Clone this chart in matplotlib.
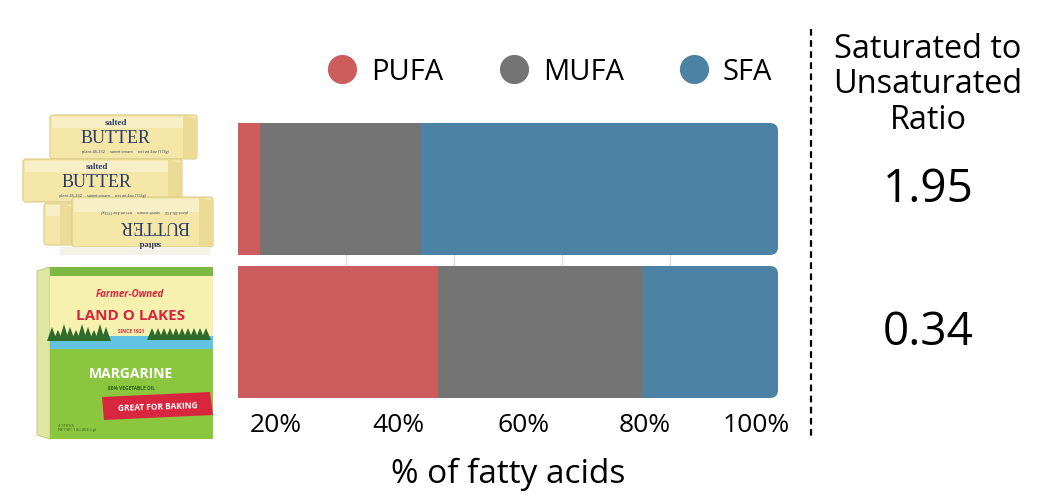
import matplotlib
matplotlib.use("Agg")
import matplotlib.pyplot as plt
import matplotlib.transforms as mtransforms
from matplotlib.patches import FancyBboxPatch, Rectangle, Polygon
from matplotlib.lines import Line2D

plt.rcParams['font.family'] = ['Open Sans', 'DejaVu Sans']

# data (% of fatty acids)
products = ['Butter', 'Margarine']
pufa = [4.0, 37.0]
mufa = [29.9, 38.0]
sfa = [66.1, 25.0]
ratios = [1.95, 0.34]
grid_ticks = [20, 40, 60, 80, 100]
tick_labels = ['20%', '40%', '60%', '80%', '100%']

series = [('PUFA', pufa, '#cd5c5c'),
          ('MUFA', mufa, '#747474'),
          ('SFA', sfa, '#4c83a4')]

W, H = 1059, 502
fig = plt.figure(figsize=(W / 100, H / 100), dpi=100)

# ---- main stacked bars ----
ax = fig.add_axes([238 / W, 1 - 399 / H, 540 / W, 275 / H])
bar_h = 0.923
ypos = list(range(len(products)))
totals = [p + m + s for p, m, s in zip(pufa, mufa, sfa)]

# rounded right end: clip every segment of a row to a rounded box
px_x = 540 / 100.0          # pixels per x unit
px_y = 275 / (len(products) - 1 + bar_h)
radius = 8 / px_x
aspect = (8 / px_y) / radius
clips = []
for y, tot in zip(ypos, totals):
    clips.append(FancyBboxPatch((-20, y - bar_h / 2), tot + 20, bar_h,
                                boxstyle=f"round,pad=0,rounding_size={radius}",
                                mutation_aspect=aspect, transform=ax.transData))

left = [0.0] * len(products)
for name, vals, col in series:
    bars = ax.barh(ypos, vals, left=left, height=bar_h, color=col,
                   linewidth=0, zorder=2)
    for b, c in zip(bars, clips):
        b.set_clip_path(c)
    left = [l + v for l, v in zip(left, vals)]

ax.set_xlim(0, 100)
ax.set_ylim(len(products) - 1 + bar_h / 2, -bar_h / 2)
ax.set_xticks(grid_ticks, minor=True)
ax.grid(which='minor', axis='x', color='#dcdcdc', linewidth=1, zorder=0)
# labels sit left of the gridlines in the original
ax.set_xticks([7.0, 29.8, 52.8, 75.4, 95.9])
ax.set_xticklabels(tick_labels, fontsize=19)
ax.tick_params(axis='x', which='both', length=0, pad=10)
ax.set_yticks([])
for s in ax.spines.values():
    s.set_visible(False)
ax.set_xlabel('% of fatty acids', fontsize=24, labelpad=14)

# legend
handles = [Line2D([], [], marker='o', ls='', markersize=21, color=c,
                  markeredgewidth=0) for _, _, c in series]
fig.legend(handles, [n for n, _, _ in series], loc='center',
           bbox_to_anchor=(550 / W, 1 - 73 / H), ncol=3, frameon=False,
           fontsize=21, handlelength=1.0, handletextpad=0.5,
           columnspacing=1.9)

# dashed separator and ratio column
fig.add_artist(Line2D([811 / W, 811 / W], [1 - 30 / H, 1 - 438 / H],
                      transform=fig.transFigure, color='black', lw=1.6,
                      dashes=(3, 2)))
fig.text(928 / W, 1 - 85 / H, 'Saturated to\nUnsaturated\nRatio',
         ha='center', va='center', fontsize=23.4, linespacing=1.1)
trans = mtransforms.blended_transform_factory(fig.transFigure, ax.transData)
for y, r in zip(ypos, ratios):
    ax.text(928 / W, y, f'{r:.2f}', transform=trans, ha='center',
            va='center', fontsize=33, clip_on=False)

# ---- product pictures (simple drawings) ----
pic = fig.add_axes([0, 0, 1, 1], zorder=-1)
pic.set_xlim(0, W)
pic.set_ylim(H, 0)
pic.axis('off')

navy = '#2a3a6a'


def stick(x0, y0, x1, y1):
    pic.add_patch(FancyBboxPatch((x0, y0), x1 - x0, y1 - y0,
                                 boxstyle='round,pad=0,rounding_size=3',
                                 fc='#f4e6a6', ec='#dccb88', lw=0.8))
    pic.add_patch(Rectangle((x0 + 2, y0 + 2), x1 - x0 - 4, (y1 - y0) * 0.25,
                            fc='#f8efc6', ec='none'))
    pic.add_patch(Polygon([(x1 - 14, y0), (x1, y0 + 4), (x1, y1 - 2),
                           (x1 - 14, y1)], fc='#ecdb96', ec='none'))


small = 'plant 45-232     sweet cream     net wt 4oz (113g)'

stick(50, 116, 197, 160)
pic.text(116, 123, 'salted', fontsize=6.5, color=navy, ha='center',
         va='center', family='Liberation Serif', fontweight='bold')
pic.text(116, 139, 'BUTTER', fontsize=13, color=navy, ha='center',
         va='center', family='Liberation Serif')
pic.text(125, 152, small, fontsize=2.8, color=navy, ha='center', va='center')

stick(23, 160, 182, 203)
pic.text(97, 167, 'salted', fontsize=6.5, color=navy, ha='center',
         va='center', family='Liberation Serif', fontweight='bold')
pic.text(97, 183, 'BUTTER', fontsize=13, color=navy, ha='center',
         va='center', family='Liberation Serif')
pic.text(102, 196, small, fontsize=2.8, color=navy, ha='center', va='center')

stick(44, 204, 74, 246)
stick(72, 198, 213, 248)
pic.text(150, 243, 'salted', fontsize=6.5, color=navy, ha='center',
         va='center', rotation=180, family='Liberation Serif',
         fontweight='bold')
pic.text(155, 226, 'BUTTER', fontsize=13, color=navy, ha='center',
         va='center', rotation=180, family='Liberation Serif')
pic.text(145, 211, small, fontsize=2.8, color=navy, ha='center',
         va='center', rotation=180)
pic.add_patch(Rectangle((60, 248), 150, 8, fc='#f4f1e8', ec='none'))

# margarine box
pic.add_patch(Polygon([(37, 272), (50, 268), (50, 440), (37, 436)],
                      fc='#dfe6a0', ec='#b9c27a', lw=0.6))
pic.add_patch(Rectangle((50, 268), 163, 172, fc='#f7f1b0', ec='none'))
pic.add_patch(Rectangle((50, 268), 163, 9, fc='#7db843', ec='none'))
pic.add_patch(Rectangle((50, 337), 163, 14, fc='#63c3e3', ec='none'))
for x in range(52, 112, 6):
    h = 10 + (x * 7) % 9
    pic.add_patch(Polygon([(x - 5, 342), (x + 5, 342), (x, 342 - h)],
                          fc='#2f6b2a', ec='none'))
for x in range(152, 212, 6):
    h = 12 + (x * 5) % 10
    pic.add_patch(Polygon([(x - 5, 341), (x + 5, 341), (x, 341 - h)],
                          fc='#2f6b2a', ec='none'))
pic.add_patch(Rectangle((50, 350), 163, 90, fc='#8cc63f', ec='none'))
pic.add_patch(Polygon([(102, 398), (210, 393), (213, 416), (104, 421)],
                      fc='#d7263d', ec='none'))

red = '#d7263d'
pic.text(130, 295, 'Farmer-Owned', fontsize=7, color=red, ha='center',
         va='center', style='italic', fontweight='bold')
pic.text(131, 316, 'LAND O LAKES', fontsize=11, color=red, ha='center',
         va='center', fontweight='bold')
pic.text(131, 332, 'SINCE 1921', fontsize=3.5, color=red, ha='center',
         va='center', fontweight='bold')
pic.text(131, 374, 'MARGARINE', fontsize=10, color='white', ha='center',
         va='center', fontweight='bold')
pic.text(131, 389, '80% VEGETABLE OIL', fontsize=3.5, color='#2f5a1c',
         ha='center', va='center', fontweight='bold')
pic.text(158, 407, 'GREAT FOR BAKING', fontsize=6, color='white',
         ha='center', va='center', fontweight='bold', rotation=2)
pic.text(58, 428, '4 STICKS\nNET WT 1 lb (453.6 g)', fontsize=2.8,
         color='#2f5a1c', ha='left', va='center')

fig.savefig('out.png', dpi=100)
